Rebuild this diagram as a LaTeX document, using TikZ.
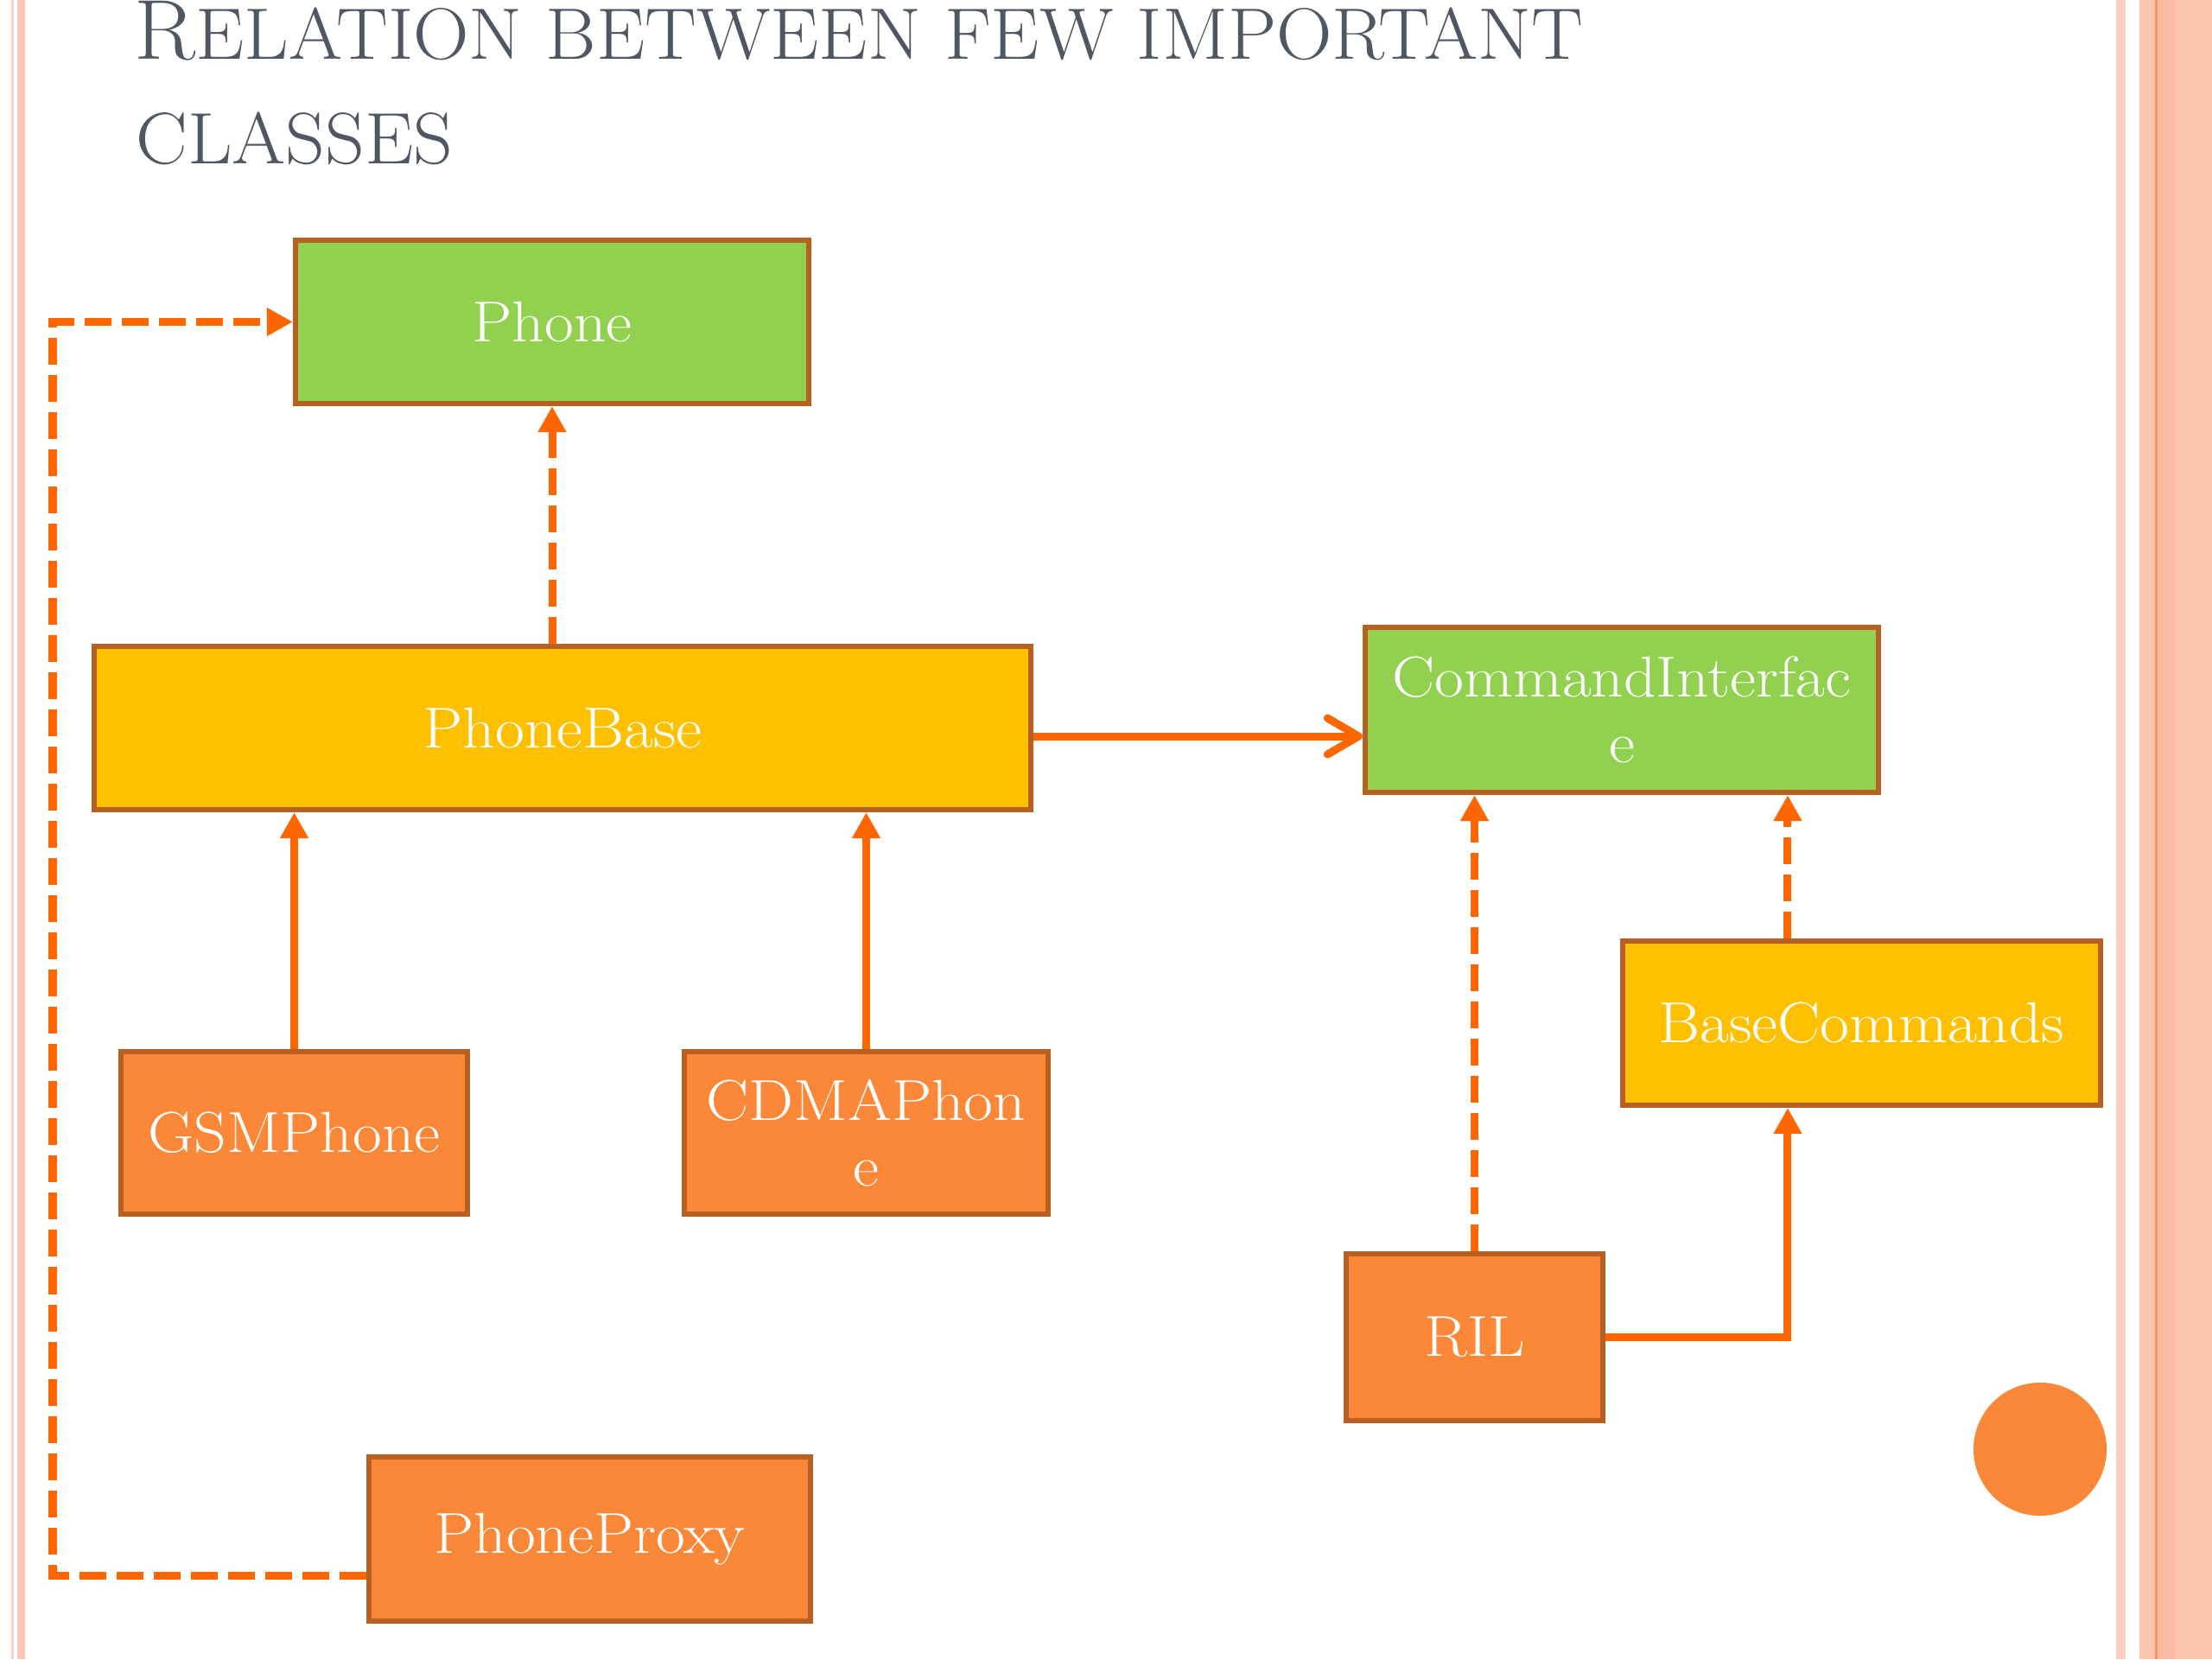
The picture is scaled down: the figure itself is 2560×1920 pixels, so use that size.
\documentclass[tikz,border=0pt]{standalone}
\usetikzlibrary{arrows.meta,calc}
\definecolor{boxgreen}{RGB}{146,208,80}
\definecolor{boxgold}{RGB}{255,192,0}
\definecolor{boxorange}{RGB}{250,136,56}
\definecolor{boxline}{RGB}{184,96,34}
\definecolor{conn}{RGB}{255,102,0}
\definecolor{titlecol}{RGB}{80,87,100}
\definecolor{pinkA}{RGB}{251,208,192}
\definecolor{pinkB}{RGB}{252,198,176}
\definecolor{pinkC}{RGB}{250,188,162}
\definecolor{orangeline}{RGB}{247,150,100}
\newcommand{\widetext}[1]{\scalebox{1.1}[1]{#1}}
\newcommand{\widetitle}[1]{\scalebox{1.06}[1]{#1}}
\begin{document}
\begin{tikzpicture}[x=0.01cm,y=-0.01cm,
  box/.style={draw=boxline,line width=0.065cm,text=white,
    font=\fontsize{19pt}{21.5pt}\selectfont,align=center,inner sep=0pt},
  greenbox/.style={box,fill=boxgreen},
  goldbox/.style={box,fill=boxgold},
  orangebox/.style={box,fill=boxorange},
  solidconn/.style={draw=conn,line width=0.09cm},
  dashconn/.style={draw=conn,line width=0.09cm,dash pattern=on 0.31cm off 0.12cm},
  tri/.style={-{Triangle[length=0.3cm,width=0.31cm]}},
  barb/.style={-{Straight Barb[length=0.36cm,width=0.42cm,round]}},
  titlefont/.style={text=titlecol,inner sep=0pt}
]
\useasboundingbox (0,0) rectangle (2560,1920);
\fill[white] (0,0) rectangle (2560,1920);
% side borders
\fill[pinkA] (13,0) rectangle (16,1920);
\fill[pinkB] (20,0) rectangle (29,1920);
\fill[pinkA] (2449,0) rectangle (2460,1920);
\fill[pinkB] (2476,0) rectangle (2560,1920);
\fill[pinkC] (2497,0) rectangle (2518,1920);
\fill[orangeline] (2494,0) rectangle (2497,1920);

% title
\node[titlefont,anchor=base west] (t1) at (155,68)
  {\widetitle{\fontsize{28pt}{30pt}\selectfont R\fontsize{24pt}{30pt}\selectfont ELATION BETWEEN FEW IMPORTANT}};
\node[titlefont,anchor=base west] (t2) at (157,189)
  {\widetitle{\fontsize{24pt}{30pt}\selectfont CLASSES}};

% boxes
\node[greenbox,minimum width=5.935cm,minimum height=1.885cm] (phone) at (639,372.5) {\widetext{Phone}};
\node[goldbox,minimum width=10.835cm,minimum height=1.885cm] (pbase) at (651,842.5) {\widetext{PhoneBase}};
\node[greenbox,minimum width=5.935cm,minimum height=1.905cm] (ci) at (1877,821.5) {\widetext{CommandInterfac}\\\widetext{e}};
\node[goldbox,minimum width=5.525cm,minimum height=1.895cm] (bc) at (2154.5,1184) {\widetext{BaseCommands}};
\node[orangebox,minimum width=4.005cm,minimum height=1.875cm] (gsm) at (340.5,1311) {\widetext{GSMPhone}};
\node[orangebox,minimum width=4.205cm,minimum height=1.875cm] (cdma) at (1002.5,1311) {\widetext{CDMAPhon}\\\widetext{e}};
\node[orangebox,minimum width=2.965cm,minimum height=1.925cm] (ril) at (1706.5,1547.5) {\widetext{RIL}};
\node[orangebox,minimum width=5.105cm,minimum height=1.895cm] (proxy) at (682.5,1781) {\widetext{PhoneProxy}};

% decorative circle
\fill[boxorange] (2361,1677) circle (0.77cm);

% connectors
\draw[dashconn,tri] (phone.south |- pbase.north) -- (phone.south);
\coordinate (proxyout) at ([yshift=-0.42cm]proxy.west);
\coordinate (bend) at (61,1000);
\draw[dashconn,tri] (proxyout) -| (bend) |- (phone.west);
\draw[solidconn,tri] (gsm.north) -- (gsm.north |- pbase.south);
\draw[solidconn,tri] (cdma.north) -- (cdma.north |- pbase.south);
\coordinate (pbout) at ([yshift=-0.095cm]pbase.east);
\draw[solidconn,barb] (pbout) -- (pbout -| ci.west);
\draw[dashconn,tri] (ril.north) -- (ril.north |- ci.south);
\coordinate (bctop) at ([xshift=-0.855cm]bc.north);
\coordinate (bcbot) at ([xshift=-0.855cm]bc.south);
\draw[dashconn,tri] (bctop) -- (bctop |- ci.south);
\draw[solidconn,tri] (ril.east) -| (bcbot);
\end{tikzpicture}
\end{document}
